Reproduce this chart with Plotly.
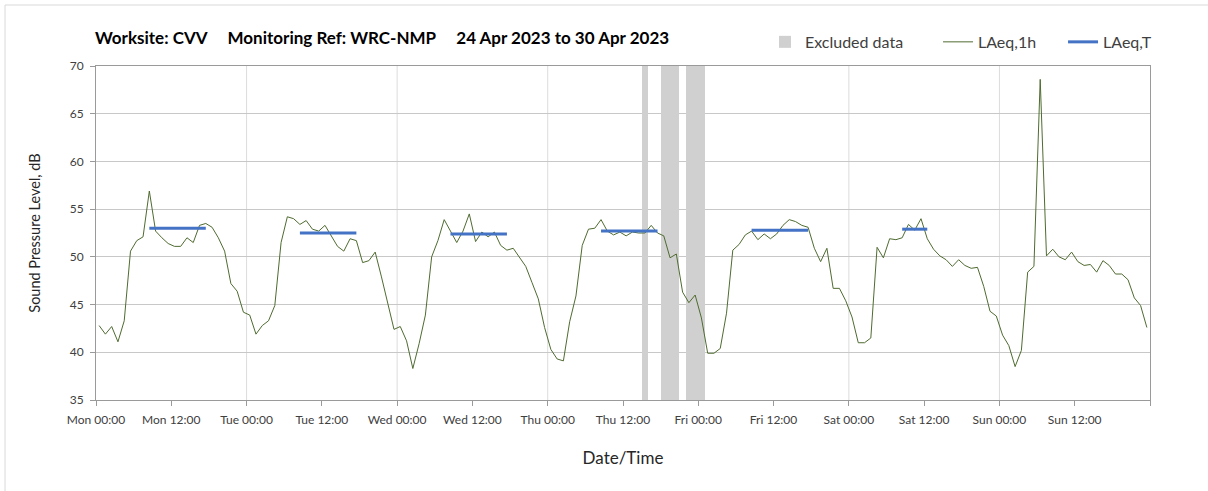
import plotly.graph_objects as go
import pandas as pd

# hourly LAeq,1h values, one list per day (Mon 24 Apr .. Sun 30 Apr 2023)
mon = [42.8, 41.9, 42.7, 41.1, 43.3, 50.6, 51.7, 52.1, 56.9, 52.7, 52.0, 51.4,
       51.1, 51.1, 52.0, 51.5, 53.3, 53.5, 53.1, 52.0, 50.6, 47.2, 46.4, 44.2]
tue = [43.9, 41.9, 42.8, 43.3, 44.9, 51.5, 54.2, 54.0, 53.4, 53.8, 52.9, 52.7,
       53.3, 52.2, 51.1, 50.6, 51.9, 51.7, 49.4, 49.6, 50.5, 47.9, 45.2, 42.4]
wed = [42.7, 41.2, 38.3, 40.9, 43.9, 50.0, 51.7, 53.9, 52.7, 51.5, 52.7, 54.5,
       51.6, 52.6, 52.1, 52.6, 51.2, 50.7, 50.9, 49.9, 49.0, 47.3, 45.6, 42.6]
thu = [40.3, 39.3, 39.1, 43.2, 45.9, 51.2, 52.9, 53.0, 53.9, 52.7, 52.3, 52.6,
       52.2, 52.6, 52.5, 52.5, 53.3, 52.5, 52.2, 49.9, 50.3, 46.3, 45.2, 46.0]
fri = [43.6, 39.9, 39.9, 40.4, 44.1, 50.7, 51.3, 52.3, 52.7, 51.8, 52.4, 51.9,
       52.4, 53.3, 53.9, 53.7, 53.3, 53.1, 50.9, 49.5, 50.9, 46.7, 46.7, 45.4]
sat = [43.7, 41.0, 41.0, 41.5, 51.0, 49.9, 51.9, 51.8, 52.0, 53.4, 52.8, 54.0,
       51.9, 50.8, 50.1, 49.7, 49.0, 49.7, 49.1, 48.8, 48.9, 46.9, 44.3, 43.8]
sun = [41.8, 40.7, 38.5, 40.2, 48.4, 49.0, 68.6, 50.1, 50.8, 50.0, 49.7, 50.5,
       49.5, 49.1, 49.2, 48.4, 49.6, 49.1, 48.2, 48.2, 47.6, 45.7, 44.9, 42.6]

# excluded hours (start of hour)
excluded = ["2023-04-27 15:00", "2023-04-27 18:00", "2023-04-27 19:00", "2023-04-27 20:00",
            "2023-04-27 22:00", "2023-04-27 23:00", "2023-04-28 00:00"]

# LAeq,T periods: first and last hour of each period, value
t_start = ["2023-04-24 08:00", "2023-04-25 08:00", "2023-04-26 08:00",
           "2023-04-27 08:00", "2023-04-28 08:00", "2023-04-29 08:00"]
t_end = ["2023-04-24 17:00", "2023-04-25 17:00", "2023-04-26 17:00",
         "2023-04-27 17:00", "2023-04-28 17:00", "2023-04-29 12:00"]
t_val = [53.0, 52.5, 52.4, 52.7, 52.8, 52.9]

start = pd.Timestamp("2023-04-24 00:00")
end = pd.Timestamp("2023-05-01 00:00")
half = pd.Timedelta(minutes=30)

laeq = mon + tue + wed + thu + fri + sat + sun
hours = pd.date_range(start, periods=len(laeq), freq="h") + half

font = "Lato, 'Open Sans', sans-serif"

fig = go.Figure()

fig.add_trace(go.Bar(x=pd.to_datetime(excluded) + half, y=[35] * len(excluded), base=35,
                     width=3600000, marker=dict(color="#d0d0d0", line=dict(width=0)),
                     name="Excluded data", legend="legend", showlegend=True))
fig.add_trace(go.Scatter(x=hours, y=laeq, mode="lines", line=dict(color="#4f6b30", width=1),
                         name="LAeq,1h", legend="legend2", showlegend=True))

tx, ty = [], []
for s, e, v in zip(t_start, t_end, t_val):
    tx += [pd.Timestamp(s) + half, pd.Timestamp(e) + half, None]
    ty += [v, v, None]
fig.add_trace(go.Scatter(x=tx, y=ty, mode="lines", line=dict(color="#4472c4", width=3),
                         name="LAeq,T", legend="legend3", showlegend=True))

# daily vertical gridlines
for d in pd.date_range(start, end, freq="D")[1:-1]:
    fig.add_shape(type="line", xref="x", yref="paper", x0=d, x1=d, y0=0, y1=1,
                  line=dict(color="#dcdcdc", width=1), layer="below")

# outer chart border
fig.add_shape(type="line", xref="paper", yref="paper", x0=-0.0863, x1=1.1, y0=1.1826, y1=1.1826,
              line=dict(color="#d9d9d9", width=1))
fig.add_shape(type="line", xref="paper", yref="paper", x0=-0.0863, x1=-0.0863, y0=1.1826, y1=-0.4,
              line=dict(color="#d9d9d9", width=1))

ticks = pd.date_range(start, end, freq="12h")
ticktext = [t.strftime("%a %H:%M") for t in ticks[:-1]] + [""]

sp = "\u00a0"
leg = dict(orientation="h", xanchor="left", y=1.072, yanchor="middle",
           font=dict(size=16, color="#404040"), bgcolor="rgba(0,0,0,0)")
fig.update_layout(
    width=1208, height=491,
    margin=dict(l=96, r=58, t=66, b=91),
    plot_bgcolor="white", paper_bgcolor="white",
    font=dict(family=font, color="#404040"),
    bargap=0,
    showlegend=True,
    title=dict(text=f"<b>Worksite: CVV{sp*5}Monitoring Ref: WRC-NMP{sp*5}24 Apr 2023 to 30 Apr 2023</b>",
               x=95 / 1208, xanchor="left", y=1 - 38 / 491, yanchor="middle",
               font=dict(size=17, color="#000000", family=font)),
    legend=dict(leg, x=0.6347),
    legend2=dict(leg, x=0.7989),
    legend3=dict(leg, x=0.9175),
    xaxis=dict(type="date", range=[start, end], tickmode="array", tickvals=ticks, ticktext=ticktext,
               showgrid=False, ticks="outside", ticklen=5, tickcolor="#9a9a9a",
               showline=True, linecolor="#9a9a9a", mirror=True, ticklabelstandoff=4,
               tickfont=dict(size=12, color="#404040"),
               title=dict(text="Date/Time", font=dict(size=17, color="#262626"), standoff=25)),
    yaxis=dict(range=[35, 70], dtick=5, showgrid=True, gridcolor="#c8c8c8", zeroline=False,
               ticks="outside", ticklen=5, tickcolor="#9a9a9a",
               showline=True, linecolor="#9a9a9a", mirror=True, ticklabelstandoff=4,
               tickfont=dict(size=12, color="#404040"),
               title=dict(text="Sound Pressure Level, dB", font=dict(size=14.5, color="#262626"), standoff=25)),
)

fig.write_html("out.html", config={"displayModeBar": False},
               post_script="document.body.style.margin='0';")
